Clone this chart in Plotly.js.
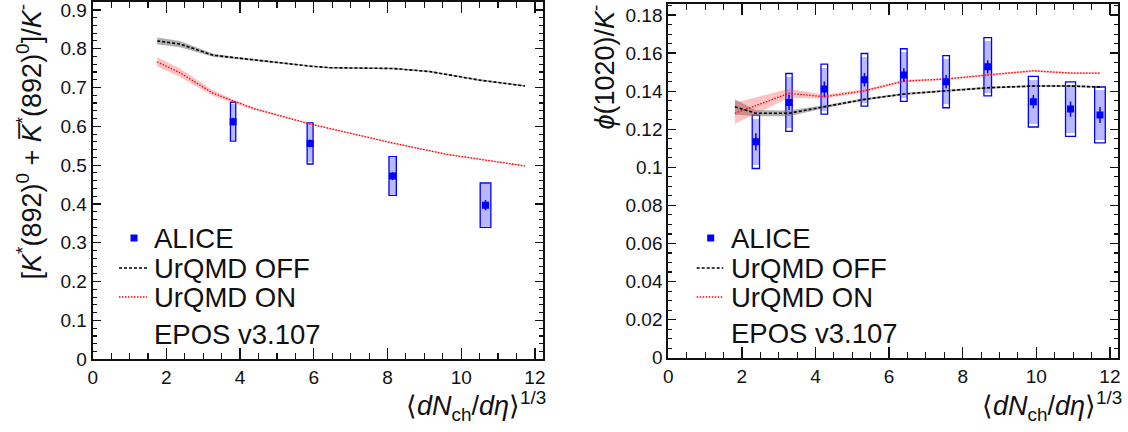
<!DOCTYPE html>
<html>
<head>
<meta charset="utf-8">
<script src="https://cdn.plot.ly/plotly-3.0.1.min.js"></script>
<style>html,body{margin:0;padding:0;background:#fff;}#chart{width:1128px;height:432px;}</style>
</head>
<body>
<div id="chart"></div>
<script>
// ---------- Left panel: K*0 / K- ----------
var kstarX      = [3.81, 5.90, 8.14, 10.66];
var kstarY      = [0.612, 0.556, 0.472, 0.397];
var kstarStat   = [0.010, 0.010, 0.010, 0.013];
var kstarSyst   = [0.050, 0.053, 0.050, 0.057];
var kstarSystU  = [0.046, 0.049, 0.046, 0.054];
var kstarXerr   = [0.072, 0.081, 0.100, 0.145];

var kOffX   = [1.75, 2.37, 3.27, 3.81, 5.90, 6.44, 8.14, 9.15, 10.5, 11.73];
var kOffY   = [0.820, 0.812, 0.783, 0.777, 0.755, 0.751, 0.749, 0.741, 0.719, 0.704];
var kOffErr = [0.009, 0.008, 0.004, 0.003, 0.002, 0.002, 0.002, 0.002, 0.002, 0.002];

var kOnX    = [1.75, 2.37, 3.27, 3.81, 4.36, 5.90, 8.14, 9.60, 11.73];
var kOnY    = [0.766, 0.738, 0.685, 0.665, 0.646, 0.606, 0.557, 0.528, 0.498];
var kOnErr  = [0.012, 0.011, 0.007, 0.004, 0.003, 0.002, 0.002, 0.002, 0.002];

// ---------- Right panel: phi / K- ----------
var phiX     = [2.38, 3.28, 4.24, 5.33, 6.40, 7.55, 8.68, 9.92, 10.93, 11.73];
var phiY     = [0.1134, 0.1341, 0.1411, 0.1460, 0.1485, 0.1450, 0.1528, 0.1345, 0.1306, 0.1275];
var phiStat  = [0.0045, 0.0040, 0.0040, 0.0035, 0.0035, 0.0035, 0.0035, 0.0035, 0.0040, 0.0042];
var phiSyst  = [0.0140, 0.0152, 0.0131, 0.0138, 0.0138, 0.0137, 0.0153, 0.0133, 0.0143, 0.0147];
var phiSystU = [0.0122, 0.0134, 0.0113, 0.0120, 0.0120, 0.0119, 0.0135, 0.0115, 0.0125, 0.0129];
var phiXerr  = [0.10, 0.086, 0.09, 0.09, 0.09, 0.09, 0.104, 0.136, 0.136, 0.145];

var pOffX   = [1.81, 2.38, 3.28, 4.24, 5.33, 6.40, 7.55, 8.68, 9.92, 10.93, 11.73];
var pOffY   = [0.1318, 0.1284, 0.1284, 0.1318, 0.1357, 0.1385, 0.1402, 0.1418, 0.1427, 0.1427, 0.1422];
var pOffErr = [0.0040, 0.0016, 0.0015, 0.0008, 0.0006, 0.0005, 0.0005, 0.0005, 0.0005, 0.0005, 0.0005];

var pOnX    = [1.81, 3.28, 4.24, 5.33, 6.40, 7.55, 8.68, 9.92, 10.93, 11.73];
var pOnY    = [0.1284, 0.1389, 0.1371, 0.1402, 0.1453, 0.1464, 0.1485, 0.1507, 0.1495, 0.1495];
var pOnErr  = [0.0055, 0.0024, 0.0010, 0.0008, 0.0006, 0.0005, 0.0005, 0.0005, 0.0005, 0.0005];

var legendLabels = ['ALICE', 'UrQMD OFF', 'UrQMD ON', 'EPOS v3.107'];

// ---------- helpers ----------
function sub(a, b) { return a.map(function (v, i) { return v - b[i]; }); }
function add(a, b) { return a.map(function (v, i) { return v + b[i]; }); }
function dbl(a) { return a.map(function (v) { return 2 * v; }); }

var OFF_DASH = '3px,2px';
var ON_DASH = '1.5px,1.5px';

function band(x, y, e, color, xa, ya) {
  return [
    { type: 'scatter', mode: 'lines', x: x, y: sub(y, e), line: { width: 0, color: color }, xaxis: xa, yaxis: ya, hoverinfo: 'skip', showlegend: false },
    { type: 'scatter', mode: 'lines', x: x, y: add(y, e), line: { width: 0, color: color }, fill: 'tonexty', fillcolor: color, xaxis: xa, yaxis: ya, hoverinfo: 'skip', showlegend: false }
  ];
}
function modelLine(x, y, color, dash, w, xa, ya) {
  return { type: 'scatter', mode: 'lines', x: x, y: y, line: { color: color, width: w, dash: dash }, xaxis: xa, yaxis: ya, showlegend: false };
}
function dataTraces(x, y, stat, syst, systU, xerr, xa, ya) {
  return [
    { type: 'bar', x: x, y: dbl(systU), base: sub(y, systU), width: dbl(xerr), marker: { color: 'rgba(60,60,255,0.36)', line: { width: 0 } }, xaxis: xa, yaxis: ya, showlegend: false },
    { type: 'bar', x: x, y: dbl(syst), base: sub(y, syst), width: dbl(xerr), marker: { color: 'rgba(0,0,0,0)', line: { color: 'rgb(0,0,255)', width: 1.3 } }, xaxis: xa, yaxis: ya, showlegend: false },
    { type: 'scatter', mode: 'markers', x: x, y: y, marker: { symbol: 'square', size: 7, color: 'rgb(0,0,255)' },
      error_y: { type: 'data', array: stat, visible: true, thickness: 1.5, width: 0, color: 'rgb(0,0,255)' }, xaxis: xa, yaxis: ya, showlegend: false }
  ];
}

var data = [].concat(
  band(kOffX, kOffY, kOffErr, 'rgba(110,110,110,0.55)', 'x', 'y'),
  band(kOnX, kOnY, kOnErr, 'rgba(255,80,80,0.35)', 'x', 'y'),
  [modelLine(kOffX, kOffY, 'black', OFF_DASH, 1.6, 'x', 'y'), modelLine(kOnX, kOnY, 'rgb(255,0,0)', ON_DASH, 1.3, 'x', 'y')],
  dataTraces(kstarX, kstarY, kstarStat, kstarSyst, kstarSystU, kstarXerr, 'x', 'y'),
  band(pOffX, pOffY, pOffErr, 'rgba(110,110,110,0.55)', 'x2', 'y2'),
  band(pOnX, pOnY, pOnErr, 'rgba(255,80,80,0.35)', 'x2', 'y2'),
  [modelLine(pOffX, pOffY, 'black', OFF_DASH, 1.6, 'x2', 'y2'), modelLine(pOnX, pOnY, 'rgb(255,0,0)', ON_DASH, 1.3, 'x2', 'y2')],
  dataTraces(phiX, phiY, phiStat, phiSyst, phiSystU, phiXerr, 'x2', 'y2')
);

var W = 1128, H = 432;
function px(v) { return v / W; }
function py(v) { return 1 - v / H; }

var tickFont = { family: 'Liberation Sans, Arial, sans-serif', size: 19, color: '#111' };
function xAxis(domain, anchor) {
  return {
    domain: domain, anchor: anchor, range: [0, 12.22], dtick: 2, tick0: 0,
    ticks: 'inside', ticklen: 11, tickwidth: 1.3, tickcolor: '#111',
    minor: { dtick: 0.5, ticks: 'inside', ticklen: 6, tickwidth: 1.1, tickcolor: '#111' },
    showline: true, linecolor: '#111', linewidth: 2, mirror: 'ticks',
    showgrid: false, zeroline: false, tickfont: tickFont, fixedrange: true, ticklabeloverflow: 'allow'
  };
}
function yAxis(domain, anchor, range, dtick, minor) {
  return {
    domain: domain, anchor: anchor, range: range, dtick: dtick, tick0: 0,
    ticks: 'inside', ticklen: 8, tickwidth: 1.3, tickcolor: '#111',
    minor: { dtick: minor, ticks: 'inside', ticklen: 4, tickwidth: 1.1, tickcolor: '#111' },
    showline: true, linecolor: '#111', linewidth: 2, mirror: 'ticks',
    showgrid: false, zeroline: false, tickfont: tickFont, fixedrange: true, ticklabeloverflow: 'allow'
  };
}

var titleFont = { family: 'Liberation Sans, Arial, sans-serif', size: 27, color: '#111' };
var legFont = { family: 'Liberation Sans, Arial, sans-serif', size: 27.5, color: '#111' };
var xTitleText = '⟨<i>dN</i><sub>ch</sub>/<i>dη</i>⟩<sup>1/3</sup>';

var annotations = [
  { xref: 'paper', yref: 'paper', x: px(548), y: py(385), xanchor: 'right', yanchor: 'top', text: xTitleText, showarrow: false, font: titleFont },
  { xref: 'paper', yref: 'paper', x: px(1124), y: py(385), xanchor: 'right', yanchor: 'top', text: xTitleText, showarrow: false, font: titleFont },
  { xref: 'paper', yref: 'paper', x: px(29), y: py(3), xanchor: 'center', yanchor: 'top', textangle: -90, showarrow: false, font: titleFont,
    text: '[<i>K</i><sup>*</sup>(892)<sup>0</sup> + <i>K̅</i><sup>*</sup>(892)<sup>0</sup>]/<i>K</i><sup>-</sup>' },
  { xref: 'paper', yref: 'paper', x: px(603), y: py(3), xanchor: 'center', yanchor: 'top', textangle: -90, showarrow: false, font: titleFont,
    text: '<i>ϕ</i>(1020)/<i>K</i><sup>-</sup>' }
];
var shapes = [];
function addLegend(markX, textX, lineX0, lineX1, ys) {
  for (var i = 0; i < legendLabels.length; i++) {
    annotations.push({ xref: 'paper', yref: 'paper', x: px(textX), y: py(ys[i]), xanchor: 'left', yanchor: 'middle', text: legendLabels[i], showarrow: false, font: legFont });
  }
  shapes.push({ type: 'rect', xref: 'paper', yref: 'paper', x0: px(markX - 3.5), x1: px(markX + 3.5), y0: py(ys[0] - 3.5), y1: py(ys[0] + 3.5), fillcolor: 'rgb(0,0,255)', line: { width: 0 } });
  shapes.push({ type: 'line', xref: 'paper', yref: 'paper', x0: px(lineX0), x1: px(lineX1), y0: py(ys[1]), y1: py(ys[1]), line: { color: 'black', width: 1.6, dash: OFF_DASH } });
  shapes.push({ type: 'line', xref: 'paper', yref: 'paper', x0: px(lineX0), x1: px(lineX1), y0: py(ys[2]), y1: py(ys[2]), line: { color: 'rgb(255,0,0)', width: 1.3, dash: ON_DASH } });
}
addLegend(134, 152, 119, 147, [238, 268, 297, 334]);
addLegend(710.7, 729, 696.7, 723.3, [238, 268, 297, 333]);

var layout = {
  width: W, height: H,
  margin: { l: 0, r: 0, t: 0, b: 0 },
  paper_bgcolor: 'white', plot_bgcolor: 'white',
  showlegend: false, barmode: 'overlay', bargap: 0,
  xaxis: xAxis([px(92.7), px(543)], 'y'),
  yaxis: yAxis([1 - 359.3 / H, 1 - 1.7 / H], 'x', [0, 0.921], 0.1, 0.02),
  xaxis2: xAxis([px(668.3), px(1118)], 'y2'),
  yaxis2: yAxis([1 - 357.7 / H, 1 - 4 / H], 'x2', [0, 0.1858], 0.02, 0.005),
  annotations: annotations,
  shapes: shapes
};

Plotly.newPlot('chart', data, layout, { displayModeBar: false, staticPlot: true });
</script>
</body>
</html>
